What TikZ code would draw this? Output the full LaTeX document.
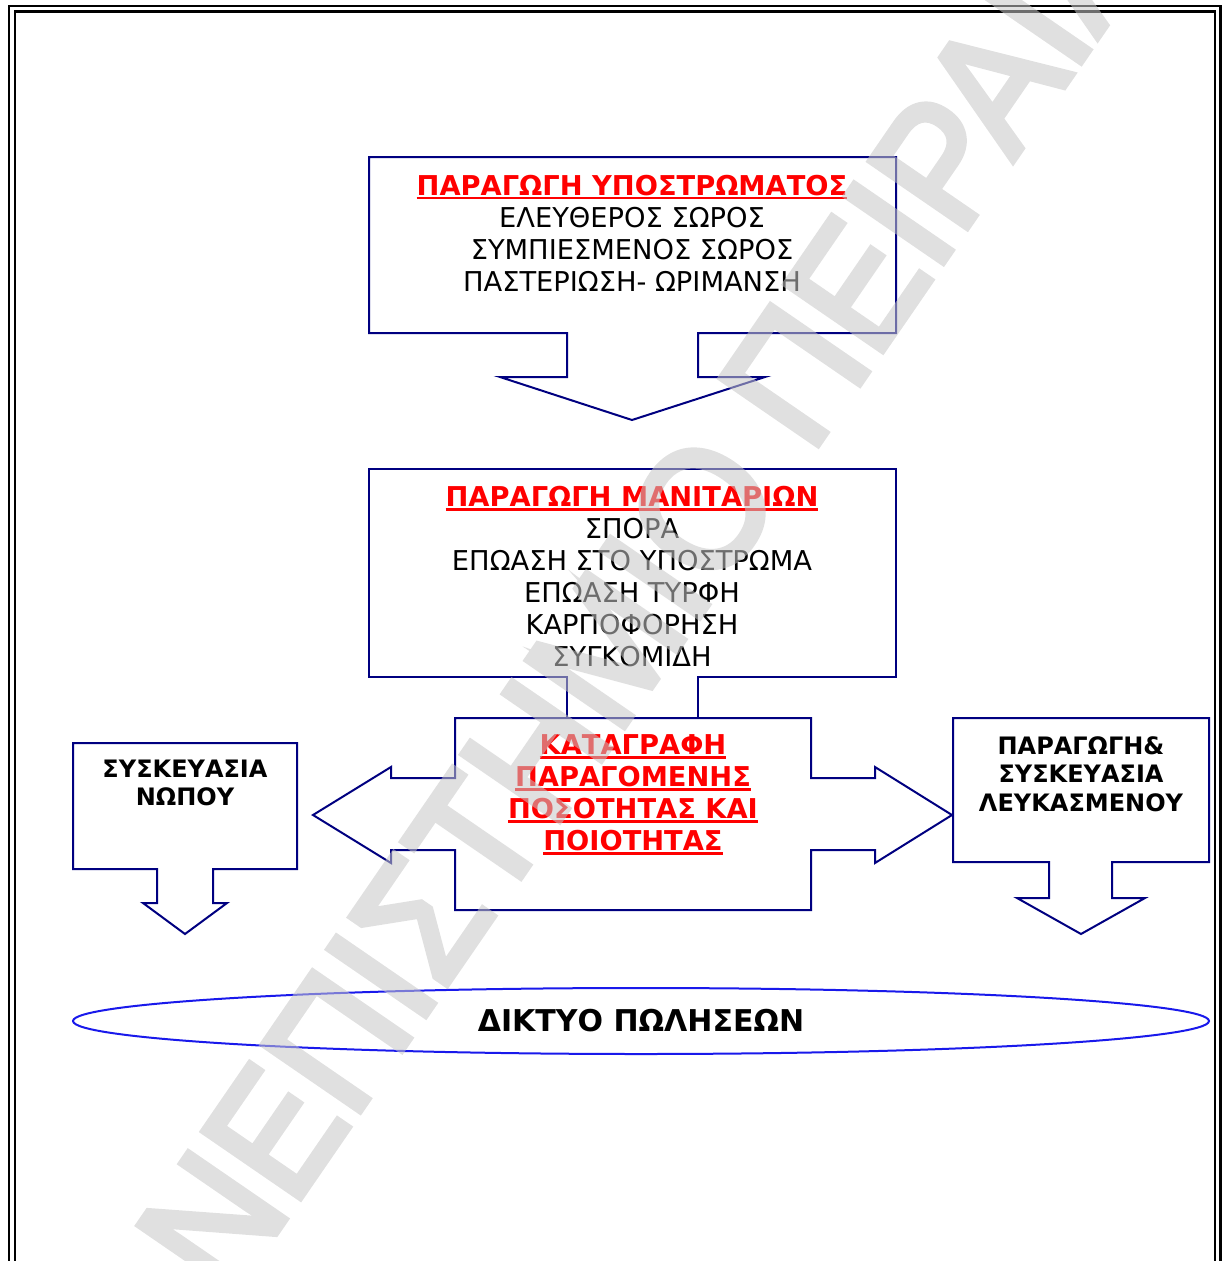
\documentclass[tikz,border=0pt]{standalone}
\usepackage{fontspec}
\setmainfont{DejaVu Sans}
\newfontfamily\wmfont[FakeBold=4]{Liberation Sans}
\usepackage{tikz}
\usetikzlibrary{shapes.geometric}

\definecolor{boxnavy}{RGB}{0,0,128}
\definecolor{ovalblue}{RGB}{25,25,235}
\definecolor{headred}{RGB}{255,0,0}
\definecolor{wmgray}{RGB}{199,199,199}

\newcommand{\uline}[1]{\setbox0\hbox{#1}\rlap{\rule[-4pt]{\wd0}{2.5pt}}\box0}
\newcommand{\redhead}[1]{{\color{headred}\bfseries\uline{#1}}}

\begin{document}
\begin{tikzpicture}[x=1pt, y=-1pt, line join=miter]

%====Stili=====================================================================

	\tikzstyle{calloutline}=[draw=boxnavy, line width=2pt, fill=white]
	\tikzstyle{pageframe}=[draw=black, line width=2.3pt]
	\tikzstyle{boxtext}=[align=center, inner sep=0pt, font=\fontsize{27.3}{32}\selectfont]
	\tikzstyle{smalltext}=[align=center, inner sep=0pt, font=\fontsize{24}{28.7}\selectfont\bfseries]
	\tikzstyle{salesoval}=[ellipse, draw=ovalblue, line width=2pt, inner sep=0pt, minimum width=1136pt, minimum height=66pt, font=\fontsize{30}{32}\selectfont\bfseries]
	\tikzstyle{wmark}=[inner sep=0pt, rotate=55.5, text=wmgray, font=\fontsize{158}{160}\selectfont\wmfont]

	\useasboundingbox (0,0) rectangle (1223,1261);

%====Cornice===================================================================

	\draw[pageframe] (9,1261) -- (9,6) -- (1220.5,6) -- (1220.5,1261);
	\draw[pageframe] (14.7,1261) -- (14.7,11.5) -- (1215,11.5) -- (1215,1261);

%====Frecce a blocco===========================================================

	% substrato
	\draw[calloutline] (369,157) -- (896,157) -- (896,333) -- (698,333) -- (698,377) -- (765,377)
		-- (632,420) -- (500,377) -- (567,377) -- (567,333) -- (369,333) -- cycle;
	% funghi
	\draw[calloutline] (567,718) -- (567,677) -- (369,677) -- (369,469) -- (896,469) -- (896,677)
		-- (698,677) -- (698,718);
	% registrazione
	\draw[calloutline] (455,718) -- (811,718) -- (811,778) -- (875,778) -- (875,767) -- (952,815)
		-- (875,863) -- (875,850) -- (811,850) -- (811,910) -- (455,910) -- (455,850) -- (391,850)
		-- (391,863) -- (313,815) -- (391,767) -- (391,778) -- (455,778) -- cycle;
	% fresco
	\draw[calloutline] (73,743) -- (297,743) -- (297,869) -- (213,869) -- (213,903) -- (227,903)
		-- (185,934) -- (143,903) -- (157,903) -- (157,869) -- (73,869) -- cycle;
	% sbiancato
	\draw[calloutline] (953,718) -- (1209,718) -- (1209,862) -- (1112,862) -- (1112,898) -- (1145,898)
		-- (1081,934) -- (1017,898) -- (1049,898) -- (1049,862) -- (953,862) -- cycle;

%====Testi=====================================================================

	\node[boxtext] 		(substrate) 	at (632,233) 	{\redhead{ΠΑΡΑΓΩΓΗ ΥΠΟΣΤΡΩΜΑΤΟΣ}\\ΕΛΕΥΘΕΡΟΣ ΣΩΡΟΣ\\ΣΥΜΠΙΕΣΜΕΝΟΣ ΣΩΡΟΣ\\ΠΑΣΤΕΡΙΩΣΗ- ΩΡΙΜΑΝΣΗ};
	\node[boxtext] 		(mushrooms) 	at (632,577) 	{\redhead{ΠΑΡΑΓΩΓΗ ΜΑΝΙΤΑΡΙΩΝ}\\ΣΠΟΡΑ\\ΕΠΩΑΣΗ ΣΤΟ ΥΠΟΣΤΡΩΜΑ\\ΕΠΩΑΣΗ ΤΥΡΦΗ\\ΚΑΡΠΟΦΟΡΗΣΗ\\ΣΥΓΚΟΜΙΔΗ};
	\node[boxtext] 		(record) 		at (633,795) 	{\redhead{ΚΑΤΑΓΡΑΦΗ}\\\redhead{ΠΑΡΑΓΟΜΕΝΗΣ}\\\redhead{ΠΟΣΟΤΗΤΑΣ ΚΑΙ}\\\redhead{ΠΟΙΟΤΗΤΑΣ}};
	\node[smalltext] 	(fresh) 		at (185,783) 	{ΣΥΣΚΕΥΑΣΙΑ\\ΝΩΠΟΥ};
	\node[smalltext] 	(blanched) 	at (1081,774) 	{ΠΑΡΑΓΩΓΗ\&\\ΣΥΣΚΕΥΑΣΙΑ\\ΛΕΥΚΑΣΜΕΝΟΥ};
	\node[salesoval] 	(sales) 		at (641,1021) 	{ΔΙΚΤΥΟ ΠΩΛΗΣΕΩΝ};

%====Filigrana=================================================================

	\begin{scope}[transparency group, opacity=0.55]
		\node[wmark] 	(watermark) 	at (582,684) 	{\scalebox{1}[1.08]{ΠΑΝΕΠΙΣΤΗΜΙΟ ΠΕΙΡΑΙΑ}};
	\end{scope}
\end{tikzpicture}
\end{document}
